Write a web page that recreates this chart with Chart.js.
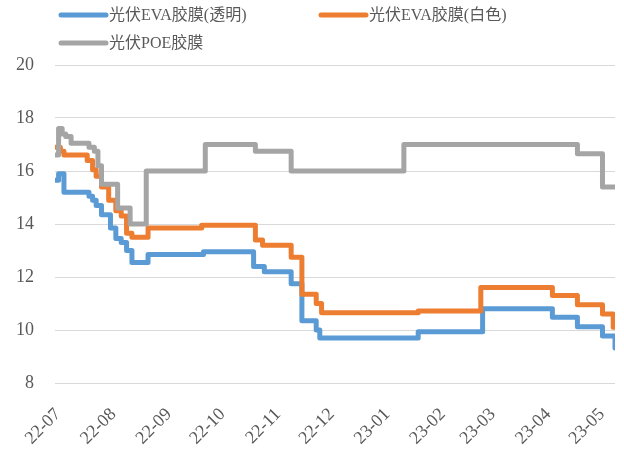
<!DOCTYPE html>
<html>
<head>
<meta charset="utf-8">
<script src="https://cdn.jsdelivr.net/npm/chart.js@4.4.1/dist/chart.umd.min.js"></script>
<style>
  html, body { margin: 0; padding: 0; background: #fff; }
  #wrap { width: 624px; height: 454px; }
</style>
</head>
<body>
<div id="wrap"><canvas id="chart" width="624" height="454"></canvas></div>
<script>
// Series names and colours (Excel office theme)
const seriesNames = ['光伏EVA胶膜(透明)', '光伏EVA胶膜(白色)', '光伏POE胶膜'];
const seriesColors = ['#5b9bd5', '#ed7d31', '#a5a5a5'];

// Axis
const firstDate = '2022-07-01';
const lastDate = '2023-05-10';
const monthTicks = ['2022-07-01', '2022-08-01', '2022-09-01', '2022-10-01', '2022-11-01', '2022-12-01',
  '2023-01-01', '2023-02-01', '2023-03-01', '2023-04-01', '2023-05-01'];
const monthLabels = ['22-07', '22-08', '22-09', '22-10', '22-11', '22-12',
  '23-01', '23-02', '23-03', '23-04', '23-05'];
const yTicks = [8, 10, 12, 14, 16, 18, 20];

// Price change points: each value holds until the next date
const clearDates = ['2022-07-01', '2022-07-03', '2022-07-06', '2022-07-20', '2022-07-22', '2022-07-24',
  '2022-07-27', '2022-08-01', '2022-08-04', '2022-08-07', '2022-08-10', '2022-08-13', '2022-08-22',
  '2022-09-22', '2022-10-20', '2022-10-26', '2022-11-10', '2022-11-16', '2022-11-24', '2022-11-26',
  '2023-01-20', '2023-02-25', '2023-04-05', '2023-04-19', '2023-05-03', '2023-05-10'];
const clearValues = [15.65, 15.9, 15.2, 15.05, 14.9, 14.7,
  14.35, 13.85, 13.45, 13.3, 13.0, 12.55, 12.85,
  12.95, 12.4, 12.2, 11.75, 10.35, 10.0, 9.7,
  9.93, 10.8, 10.48, 10.12, 9.77, 9.32];

const whiteDates = ['2022-07-01', '2022-07-04', '2022-07-06', '2022-07-19', '2022-07-22', '2022-07-24',
  '2022-07-27', '2022-07-31', '2022-08-04', '2022-08-07', '2022-08-10', '2022-08-13', '2022-08-22',
  '2022-09-21', '2022-10-21', '2022-10-25', '2022-11-10', '2022-11-16', '2022-11-24', '2022-11-27',
  '2023-01-20', '2023-02-24', '2023-04-05', '2023-04-19', '2023-05-03', '2023-05-09', '2023-05-10'];
const whiteValues = [16.9, 16.75, 16.6, 16.4, 16.05, 15.8,
  15.4, 14.9, 14.5, 14.3, 13.65, 13.5, 13.85,
  13.95, 13.4, 13.2, 12.75, 11.35, 11.0, 10.65,
  10.72, 11.6, 11.3, 10.95, 10.6, 10.1, 10.1];

const poeDates = ['2022-07-01', '2022-07-03', '2022-07-05', '2022-07-07', '2022-07-10', '2022-07-20',
  '2022-07-23', '2022-07-25', '2022-07-27', '2022-08-05', '2022-08-12', '2022-08-21', '2022-09-23',
  '2022-10-21', '2022-11-10', '2023-01-12', '2023-04-19', '2023-05-03', '2023-05-10'];
const poeValues = [16.6, 17.6, 17.4, 17.3, 17.05, 16.9,
  16.75, 16.2, 15.5, 14.6, 14.0, 16.0, 17.0,
  16.75, 16.0, 17.0, 16.65, 15.4, 15.4];

const textColor = '#595959';
const tickFont = { family: "'Liberation Serif', 'Noto Sans CJK SC', serif", size: 18 };

// days since the first date
function dayIndex(s) {
  const [y, m, d] = s.split('-').map(Number);
  const [y0, m0, d0] = firstDate.split('-').map(Number);
  return (Date.UTC(y, m - 1, d) - Date.UTC(y0, m0 - 1, d0)) / 86400000;
}

function toPoints(dates, values) {
  return dates.map((d, i) => ({ x: dayIndex(d), y: values[i] }));
}

function makeDataset(i, dates, values) {
  return {
    label: seriesNames[i],
    data: toPoints(dates, values),
    borderColor: seriesColors[i],
    backgroundColor: seriesColors[i],
    borderWidth: 5,
    borderCapStyle: 'round',
    borderJoinStyle: 'round',
    stepped: 'before',
    pointRadius: 0,
    fill: false,
    order: 2 - i
  };
}

// Legend laid out like the Excel one: two columns, two rows
const legendBoxes = [
  { x: 61, y: 15 },
  { x: 321, y: 15 },
  { x: 61, y: 43 }
];

const excelLegend = {
  id: 'excelLegend',
  afterDraw(chart) {
    const ctx = chart.ctx;
    ctx.save();
    ctx.font = "16px 'Liberation Serif', 'Noto Sans CJK SC', serif";
    ctx.textBaseline = 'middle';
    ctx.textAlign = 'left';
    legendBoxes.forEach((b, i) => {
      ctx.strokeStyle = seriesColors[i];
      ctx.lineWidth = 5;
      ctx.lineCap = 'round';
      ctx.beginPath();
      ctx.moveTo(b.x, b.y);
      ctx.lineTo(b.x + 45, b.y);
      ctx.stroke();
      ctx.fillStyle = textColor;
      ctx.fillText(seriesNames[i], b.x + 48, b.y + 1);
    });
    ctx.restore();
  }
};

const tickDays = monthTicks.map(dayIndex);

new Chart(document.getElementById('chart').getContext('2d'), {
  type: 'line',
  data: {
    datasets: [
      makeDataset(0, clearDates, clearValues),
      makeDataset(1, whiteDates, whiteValues),
      makeDataset(2, poeDates, poeValues)
    ]
  },
  options: {
    responsive: false,
    animation: false,
    devicePixelRatio: 1,
    layout: { padding: { top: 65, right: 9, bottom: 0, left: 0 } },
    plugins: {
      legend: { display: false },
      tooltip: { enabled: false }
    },
    scales: {
      x: {
        type: 'linear',
        min: 0,
        max: dayIndex(lastDate),
        grid: { display: false, drawTicks: false },
        border: { display: false },
        afterBuildTicks: scale => { scale.ticks = tickDays.map(v => ({ value: v })); },
        afterFit: scale => {
          scale.height = 71;
          scale.paddingLeft = 0;
          scale.paddingRight = 0;
        },
        ticks: {
          autoSkip: false,
          minRotation: 45,
          maxRotation: 45,
          padding: 21,
          labelOffset: 3,
          color: textColor,
          font: tickFont,
          callback: (value, i) => monthLabels[i]
        }
      },
      y: {
        min: 8,
        max: 20,
        afterBuildTicks: scale => { scale.ticks = yTicks.map(v => ({ value: v })); },
        afterFit: scale => { scale.width = 55; },
        grid: { color: '#d9d9d9', lineWidth: 1, drawTicks: false },
        border: { display: false },
        ticks: {
          padding: 21,
          color: textColor,
          font: tickFont
        }
      }
    }
  },
  plugins: [excelLegend]
});
</script>
</body>
</html>
